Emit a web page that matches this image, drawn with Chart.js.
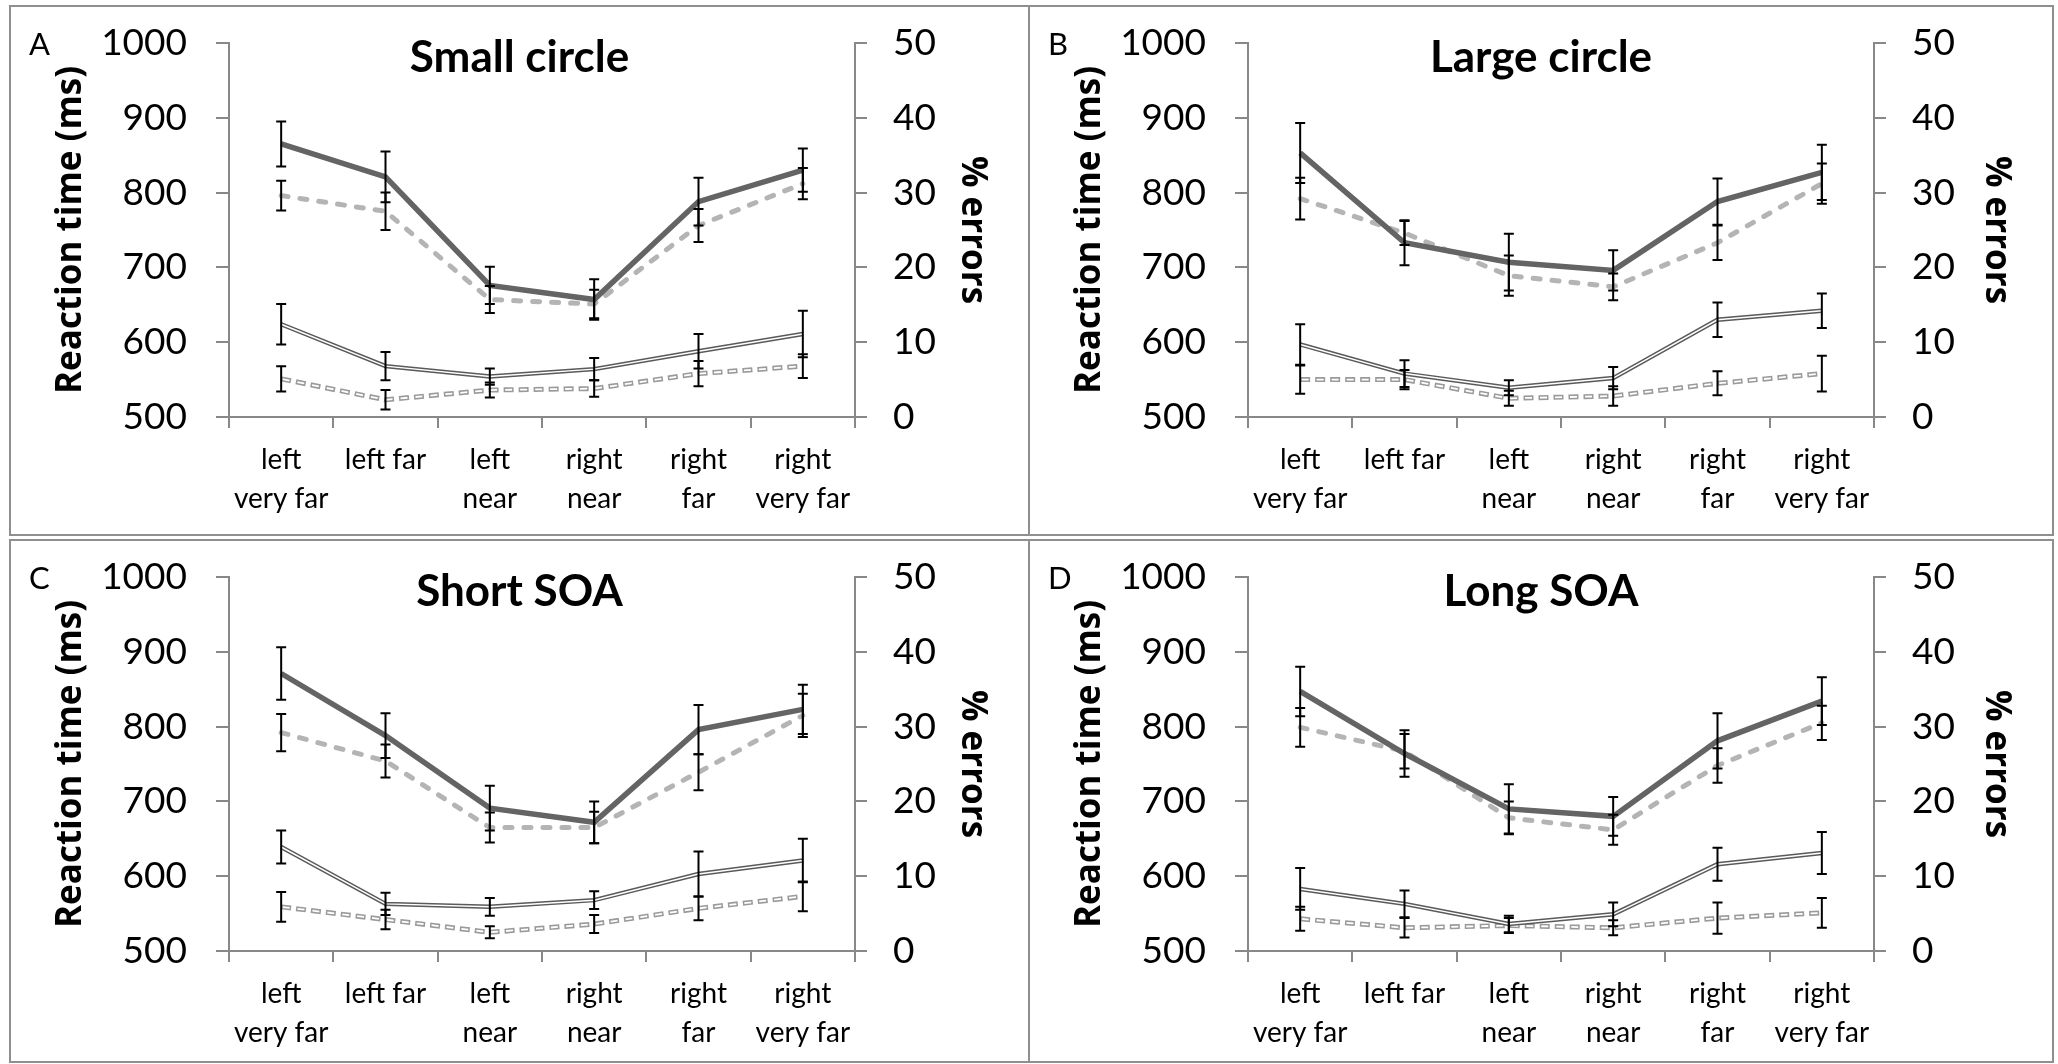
<!DOCTYPE html>
<html>
<head>
<meta charset="utf-8">
<title>Reaction time and errors by target position</title>
<script src="https://cdn.jsdelivr.net/npm/chart.js@4.4.1/dist/chart.umd.min.js"></script>
<style>
    html, body { margin: 0; padding: 0; background: #fff; }
    body { width: 2058px; height: 1064px; position: relative; overflow: hidden; }
    .panel { position: absolute; box-sizing: border-box; border: 2px solid #8f8f8f; background: #fff; }
    .panel canvas { display: block; }
</style>
</head>
<body>
<div class="panel" style="left:9px;top:5px;width:1021px;height:531px"><canvas id="chart-a" width="1017" height="527"></canvas></div>
<div class="panel" style="left:1028px;top:5px;width:1026px;height:531px"><canvas id="chart-b" width="1022" height="527"></canvas></div>
<div class="panel" style="left:9px;top:539px;width:1021px;height:524px"><canvas id="chart-c" width="1017" height="520"></canvas></div>
<div class="panel" style="left:1028px;top:539px;width:1026px;height:524px"><canvas id="chart-d" width="1022" height="520"></canvas></div>
<script>
// categorias (posicao do alvo)
const positionLabels = [['left', 'very far'], 'left far', ['left', 'near'], ['right', 'near'], ['right', 'far'], ['right', 'very far']];
const rtTickLabels = ['500', '600', '700', '800', '900', '1000'];
const errTickLabels = ['0', '10', '20', '30', '40', '50'];

// A - Small circle
const smallRtSolid = [865, 821, 676, 657, 788, 830];
const smallRtSolidSe = [30, 34, 25, 27, 32, 29];
const smallRtDashed = [796, 775, 657, 651, 756, 812];
const smallRtDashedSe = [20, 25, 18, 19, 22, 21];
const smallErrSolid = [12.4, 6.8, 5.4, 6.4, 8.8, 11.1];
const smallErrSolidSe = [2.7, 1.9, 1.1, 1.5, 2.3, 3.1];
const smallErrDashed = [5.1, 2.3, 3.6, 3.8, 5.8, 6.8];
const smallErrDashedSe = [1.7, 1.3, 1.0, 1.1, 1.7, 1.6];

// B - Large circle
const largeRtSolid = [853, 733, 707, 696, 788, 827];
const largeRtSolidSe = [40, 30, 38, 27, 31, 37];
const largeRtDashed = [792, 746, 689, 674, 733, 812];
const largeRtDashedSe = [28, 16, 27, 18, 23, 27];
const largeErrSolid = [9.7, 5.8, 3.9, 5.2, 13.0, 14.2];
const largeErrSolidSe = [2.7, 1.8, 1.0, 1.5, 2.3, 2.3];
const largeErrDashed = [5.0, 5.0, 2.5, 2.8, 4.5, 5.8];
const largeErrDashedSe = [1.9, 1.3, 1.0, 1.3, 1.6, 2.4];

// C - Short SOA
const shortRtSolid = [871, 788, 691, 672, 796, 823];
const shortRtSolidSe = [35, 30, 30, 28, 33, 33];
const shortRtDashed = [792, 754, 665, 665, 739, 815];
const shortRtDashedSe = [25, 22, 20, 21, 24, 29];
const shortErrSolid = [13.9, 6.3, 5.9, 6.8, 10.3, 12.1];
const shortErrSolidSe = [2.2, 1.5, 1.2, 1.2, 3.0, 2.9];
const shortErrDashed = [5.9, 4.2, 2.5, 3.6, 5.7, 7.3];
const shortErrDashedSe = [2.0, 1.3, 0.8, 1.2, 1.6, 2.0];

// D - Long SOA
const longRtSolid = [847, 764, 690, 680, 781, 834];
const longRtSolidSe = [33, 31, 33, 26, 37, 32];
const longRtDashed = [799, 767, 678, 662, 748, 805];
const longRtDashedSe = [26, 23, 22, 20, 23, 23];
const longErrSolid = [8.3, 6.3, 3.6, 4.9, 11.6, 13.1];
const longErrSolidSe = [2.8, 1.8, 1.1, 1.6, 2.2, 2.8];
const longErrDashed = [4.3, 3.1, 3.4, 3.1, 4.4, 5.1];
const longErrDashedSe = [1.6, 1.3, 1.0, 1.0, 2.1, 2.0];

const FONT = "Lato, 'Open Sans', sans-serif";
const AXIS_TITLE_FONT = "'Open Sans', 'Noto Sans', sans-serif";
const AXIS_GRAY = '#888888';
const PLOT_LEFT = 218;
const PLOT_RIGHT = 844;
const PLOT_TOP = 36;
const PLOT_BOTTOM = 410;

Chart.defaults.font.family = FONT;
Chart.defaults.color = '#000';

// barras de erro desenhadas por cima das linhas
const errorBarsPlugin = {
    id: 'errorBars',
    afterDatasetsDraw(chart) {
        const ctx = chart.ctx;
        ctx.save();
        ctx.strokeStyle = '#000';
        ctx.lineWidth = 2;
        chart.data.datasets.forEach((ds, i) => {
            if (!ds.errorBars) return;
            const meta = chart.getDatasetMeta(i);
            const scale = chart.scales[ds.yAxisID];
            meta.data.forEach((pt, j) => {
                const v = ds.data[j];
                const e = ds.errorBars[j];
                const yTop = scale.getPixelForValue(v + e);
                const yBot = scale.getPixelForValue(v - e);
                ctx.beginPath();
                ctx.moveTo(pt.x, yTop); ctx.lineTo(pt.x, yBot);
                ctx.moveTo(pt.x - 5, yTop); ctx.lineTo(pt.x + 5, yTop);
                ctx.moveTo(pt.x - 5, yBot); ctx.lineTo(pt.x + 5, yBot);
                ctx.stroke();
            });
        });
        ctx.restore();
    }
};

// letra do painel e titulo sobrepostos a area do grafico
const panelTextPlugin = {
    id: 'panelText',
    afterDraw(chart, args, opts) {
        const ctx = chart.ctx;
        ctx.save();
        ctx.fillStyle = '#000';
        ctx.textBaseline = 'alphabetic';
        ctx.textAlign = 'left';
        ctx.font = '31px ' + FONT;
        ctx.fillText(opts.letter, 18, 48);
        ctx.textAlign = 'center';
        ctx.font = 'bold 44px ' + FONT;
        ctx.fillText(opts.title, chart.width / 2, 65);
        ctx.restore();
    }
};

// sem folga extra acima/abaixo: a area do grafico fica onde o layout manda
function fixVerticalPadding(scale) {
    scale.paddingTop = 0;
    scale.paddingBottom = 0;
}

function makeDatasets(rtSolid, rtSolidSe, rtDashed, rtDashedSe, errSolid, errSolidSe, errDashed, errDashedSe) {
    const base = { pointRadius: 0, pointHoverRadius: 0, tension: 0, fill: false };
    return [
        { ...base, label: 'RT solid', data: rtSolid, errorBars: rtSolidSe, yAxisID: 'y', borderColor: '#646464', borderWidth: 5.5, order: 1 },
        { ...base, label: 'RT dashed', data: rtDashed, errorBars: rtDashedSe, yAxisID: 'y', borderColor: '#b4b4b4', borderWidth: 5, borderDash: [7, 12], borderCapStyle: 'round', order: 2 },
        { ...base, label: 'Errors solid', data: errSolid, errorBars: errSolidSe, yAxisID: 'y2', borderColor: '#5a5a5a', borderWidth: 4.5, order: 4 },
        { ...base, label: '', data: errSolid, yAxisID: 'y2', borderColor: '#ffffff', borderWidth: 1.5, order: 3 },
        { ...base, label: 'Errors dashed', data: errDashed, errorBars: errDashedSe, yAxisID: 'y2', borderColor: '#9a9a9a', borderWidth: 5, borderDash: [10, 5], order: 6 },
        { ...base, label: '', data: errDashed, yAxisID: 'y2', borderColor: '#ffffff', borderWidth: 1.8, borderDash: [7, 8], borderDashOffset: -1.5, order: 5 }
    ];
}

function makeChart(canvasId, letter, title, datasets) {
    return new Chart(document.getElementById(canvasId), {
        type: 'line',
        data: { labels: positionLabels, datasets: datasets },
        options: {
            responsive: false,
            animation: false,
            devicePixelRatio: 1,
            events: [],
            layout: { padding: { top: PLOT_TOP, left: 0, right: 0, bottom: 0 } },
            plugins: {
                legend: { display: false },
                tooltip: { enabled: false },
                panelText: { letter: letter, title: title }
            },
            scales: {
                x: {
                    offset: true,
                    grid: { offset: true, drawOnChartArea: false, tickLength: 11, color: AXIS_GRAY, lineWidth: 2 },
                    border: { color: AXIS_GRAY, width: 2 },
                    ticks: { color: '#000', font: { size: 28, lineHeight: '39px' }, padding: 12, maxRotation: 0, autoSkip: false },
                    afterFit(scale) { scale.height = scale.chart.height - PLOT_BOTTOM; }
                },
                y: {
                    position: 'left',
                    min: Number(rtTickLabels[0]),
                    max: Number(rtTickLabels[rtTickLabels.length - 1]),
                    grid: { drawOnChartArea: false, tickLength: 13, color: AXIS_GRAY, lineWidth: 2 },
                    border: { color: AXIS_GRAY, width: 2 },
                    ticks: { stepSize: 100, color: '#000', font: { size: 37 }, padding: 29, callback: (v, i) => rtTickLabels[i] },
                    title: { display: true, text: 'Reaction time (ms)', color: '#000', font: { family: AXIS_TITLE_FONT, size: 35, weight: 'bold' }, padding: { top: 39, bottom: 0 } },
                    afterFit(scale) { scale.width = PLOT_LEFT; fixVerticalPadding(scale); }
                },
                y2: {
                    position: 'right',
                    min: Number(errTickLabels[0]),
                    max: Number(errTickLabels[errTickLabels.length - 1]),
                    grid: { drawOnChartArea: false, tickLength: 12, color: AXIS_GRAY, lineWidth: 2 },
                    border: { color: AXIS_GRAY, width: 2 },
                    ticks: { stepSize: 10, color: '#000', font: { size: 37 }, padding: 26, callback: (v, i) => errTickLabels[i] },
                    title: { display: true, text: '% errors', color: '#000', font: { family: AXIS_TITLE_FONT, size: 35, weight: 'bold' }, padding: { top: 35, bottom: 0 } },
                    afterFit(scale) { scale.width = scale.chart.width - PLOT_RIGHT; fixVerticalPadding(scale); }
                }
            }
        },
        plugins: [errorBarsPlugin, panelTextPlugin]
    });
}

makeChart('chart-a', 'A', 'Small circle', makeDatasets(smallRtSolid, smallRtSolidSe, smallRtDashed, smallRtDashedSe, smallErrSolid, smallErrSolidSe, smallErrDashed, smallErrDashedSe));
makeChart('chart-b', 'B', 'Large circle', makeDatasets(largeRtSolid, largeRtSolidSe, largeRtDashed, largeRtDashedSe, largeErrSolid, largeErrSolidSe, largeErrDashed, largeErrDashedSe));
makeChart('chart-c', 'C', 'Short SOA', makeDatasets(shortRtSolid, shortRtSolidSe, shortRtDashed, shortRtDashedSe, shortErrSolid, shortErrSolidSe, shortErrDashed, shortErrDashedSe));
makeChart('chart-d', 'D', 'Long SOA', makeDatasets(longRtSolid, longRtSolidSe, longRtDashed, longRtDashedSe, longErrSolid, longErrSolidSe, longErrDashed, longErrDashedSe));
</script>
</body>
</html>
